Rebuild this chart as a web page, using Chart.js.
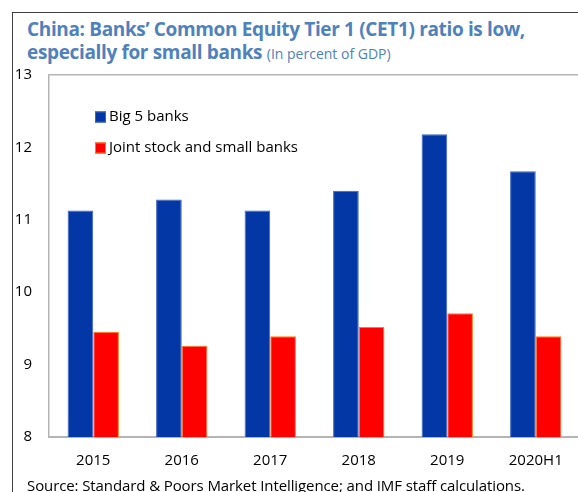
<!DOCTYPE html>
<html>
<head>
<meta charset="utf-8">
<script src="https://cdn.jsdelivr.net/npm/chart.js@4"></script>
<style>
  html, body { margin: 0; padding: 0; background: #fff; overflow: hidden; }
  body { width: 578px; height: 492px; position: relative; font-family: "Open Sans", sans-serif; }
  .frame { position: absolute; left: 12px; top: 12px; width: 600px; height: 500px;
           border-top: 1.5px solid #404040; border-left: 1.5px solid #404040; }
  .chart-title { position: absolute; left: 27px; top: 18px; color: #4F81BD; font-weight: 700;
                 font-size: 19px; line-height: 23px; letter-spacing: -0.35px; white-space: nowrap; }
  .chart-title span { font-weight: 400; font-size: 14px; letter-spacing: 0; }
  .source { position: absolute; left: 27px; top: 475px; font-size: 15px; letter-spacing: -0.1px; color: #000; white-space: nowrap; }
  #myChart { position: absolute; left: 0; top: 0; }
</style>
</head>
<body>
<div class="frame"></div>
<div class="chart-title">China: Banks’ Common Equity Tier 1 (CET1) ratio is low,<br>especially for small banks <span>(In percent of GDP)</span></div>
<canvas id="myChart" width="580" height="492"></canvas>
<div class="source">Source: Standard &amp; Poors Market Intelligence; and IMF staff calculations.</div>

<script>
const YEARS = ['2015', '2016', '2017', '2018', '2019', '2020H1'];
const BIG5 = [11.13, 11.28, 11.13, 11.40, 12.18, 11.67];
const JOINT_SMALL = [9.45, 9.26, 9.39, 9.52, 9.71, 9.39];

const AXIS_GRAY = '#B4B4B4';

/** insideLegend: draws the legend inside the top left of the plot area */
const insideLegend = {
    id: 'insideLegend',
    afterDraw(chart) {
        const ctx = chart.ctx;
        const area = chart.chartArea;
        ctx.save();
        ctx.font = '15px "Open Sans", sans-serif';
        ctx.textBaseline = 'middle';
        chart.data.datasets.forEach((ds, i) => {
            const x = area.left + 46;
            const y = area.top + 42 + i * 31;
            ctx.fillStyle = ds.backgroundColor;
            ctx.fillRect(x, y - 5.5, 11, 11);
            ctx.strokeStyle = ds.borderColor;
            ctx.lineWidth = 1;
            ctx.strokeRect(x + 0.5, y - 5, 10, 10);
            ctx.fillStyle = '#000';
            ctx.fillText(ds.label, x + 14, y);
        });
        ctx.restore();
    }
};

const myChart = new Chart(document.getElementById('myChart'), {
    type: 'bar',
    data: {
        labels: YEARS,
        datasets: [
            {
                label: 'Big 5 banks',
                data: BIG5,
                backgroundColor: '#0237A5',
                borderColor: '#3D63C2',
                borderWidth: 1,
                categoryPercentage: 0.58,
                barPercentage: 1
            },
            {
                label: 'Joint stock and small banks',
                data: JOINT_SMALL,
                backgroundColor: '#FF0000',
                borderColor: '#FF7A1A',
                borderWidth: 1,
                categoryPercentage: 0.58,
                barPercentage: 1
            }
        ]
    },
    options: {
        responsive: false,
        animation: false,
        layout: { padding: { top: 75, left: 0, right: 0, bottom: 0 } },
        plugins: {
            legend: { display: false },
            tooltip: { enabled: false }
        },
        scales: {
            x: {
                grid: { display: false, drawTicks: false },
                border: { display: true, color: AXIS_GRAY, width: 2 },
                ticks: { color: '#000', font: { family: 'Open Sans', size: 15 }, padding: 15, maxRotation: 0 },
                afterFit(scale) { scale.height = 55; }
            },
            y: {
                min: 8,
                max: 13,
                ticks: { stepSize: 1, color: '#000', font: { family: 'Open Sans', size: 15 }, padding: 17 },
                grid: {
                    drawTicks: false,
                    color: (c) => (c.tick && c.tick.value === 13 ? AXIS_GRAY : 'rgba(0,0,0,0)'),
                    lineWidth: 1.5
                },
                border: { display: true, color: AXIS_GRAY, width: 1.5 },
                afterFit(scale) { scale.width = 49; }
            }
        }
    },
    plugins: [insideLegend]
});
</script>
</body>
</html>
